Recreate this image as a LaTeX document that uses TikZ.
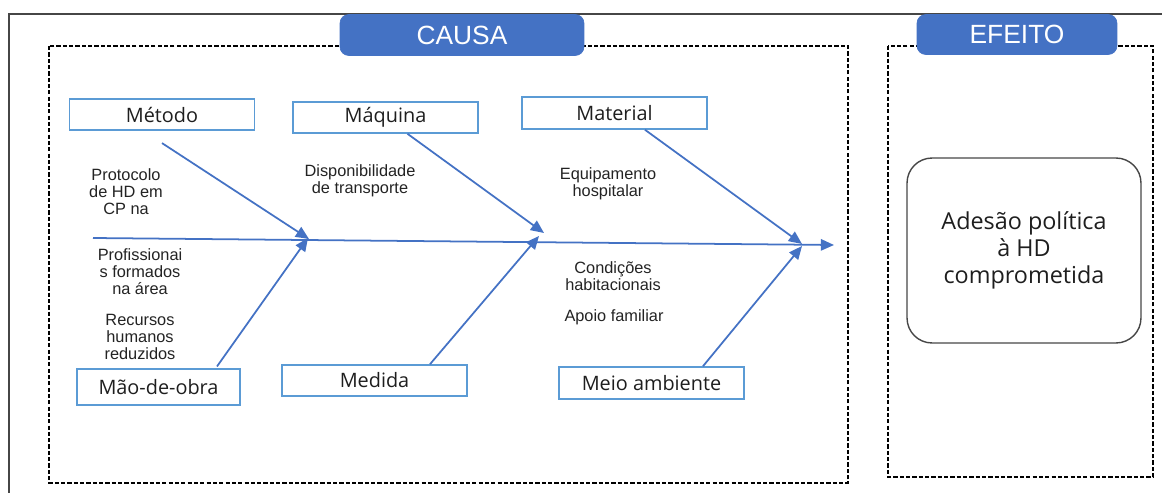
\documentclass[tikz,border=0pt]{standalone}
\usepackage{fontspec}
\usepackage{tikz}
\usetikzlibrary{arrows.meta}
\newfontfamily\labelfont{Open Sans}
\newfontfamily\notefont{Liberation Sans}

\tikzset{
  catbox/.style={draw=catline,line width=0.9pt,minimum width=3.7cm,minimum height=0.62cm,
    inner sep=0pt,text=labeltext,font=\labelfont\fontsize{11.3}{13}\selectfont},
  tabbox/.style={fill=tabblue,draw=tabblue,rounded corners=5pt,inner sep=0pt,
    text=white,font=\notefont\fontsize{15}{17}\selectfont},
  note/.style={align=center,inner sep=0pt,text=notetext,font=\notefont\fontsize{9.3}{9.7}\selectfont},
  branch/.style={draw=tabblue,line width=1pt,-{Triangle[length=7.5pt,width=6.5pt]}},
  zone/.style={draw=black,line width=0.6pt,dash pattern=on 2.4pt off 1.2pt}
}

\begin{document}
\begin{tikzpicture}[x=0.02cm,y=-0.02cm]
% Define colours
\definecolor{tabblue}{RGB}{68,114,196}
\definecolor{catline}{RGB}{91,155,213}
\definecolor{labeltext}{RGB}{30,30,30}
\definecolor{notetext}{RGB}{35,35,35}
\definecolor{frame}{RGB}{70,70,70}

\useasboundingbox (0,0) rectangle (1162,493);

% Draw outer frame and zones
\draw[frame,line width=0.9pt] (1162,14) -| (9,493);
\draw[zone] (49,46) rectangle (848,483);
\draw[zone] (888,46) rectangle (1153,477);

% Add zone tabs
\node[tabbox,minimum width=4.88cm,minimum height=0.82cm] (causa) at (462,35) {CAUSA};
\node[tabbox,minimum width=4.0cm,minimum height=0.8cm] (efeito) at (1017,34.5) {EFEITO};

% Draw effect
\node[draw=frame,line width=0.8pt,rounded corners=0.5cm,minimum width=4.68cm,minimum height=3.7cm,
  align=center,text=labeltext,font=\labelfont\fontsize{13.3}{15.5}\selectfont] (adesao) at (1024,250.5)
  {Adesão política\\à HD\\comprometida};

% Draw category boxes
\node[catbox] (metodo) at (162,114.5) {Método};
\node[catbox] (maquina) at (385.5,117.5) {\raisebox{-2.5pt}{Máquina}};
\node[catbox,minimum height=0.64cm] (material) at (614.5,113) {Material};
\node[catbox,minimum width=3.26cm,minimum height=0.72cm] (maodeobra) at (158.5,387) {Mão-de-obra};
\node[catbox] (medida) at (374.5,380.5) {Medida};
\node[catbox,minimum height=0.64cm] (meioamb) at (651.5,383) {\raisebox{-1.5pt}{Meio ambiente}};

% Draw spine
\coordinate (spinestart) at (93,238);
\coordinate (spineend) at (834,245);
\draw[branch] (spinestart) -- (spineend);

% Draw branches
\coordinate (m1) at (309,239);
\coordinate (m2) at (544,233);
\coordinate (m3) at (802,244);
\coordinate (m4) at (308,238);
\coordinate (m5) at (539,236);
\coordinate (m6) at (802,246);
\draw[branch] ([yshift=-7pt]metodo.south) -- (m1);
\draw[branch] ([xshift=0.44cm]maquina.south) -- (m2);
\draw[branch] ([xshift=0.61cm]material.south) -- (m3);
\draw[branch] ([xshift=1.17cm,yshift=1pt]maodeobra.north) -- (m4);
\draw[branch] ([xshift=1.11cm]medida.north) -- (m5);
\draw[branch] ([xshift=1.03cm]meioamb.north) -- (m6);

% Add causes
\node[note] (protocolo) at (126,192) {Protocolo\\de HD em\\CP na};
\node[note] (profissionais) at (140,272) {Profissionai\\s formados\\na área};
\node[note] (recursos) at (140,337) {Recursos\\humanos\\reduzidos};
\node[note] (transporte) at (360,181) {Disponibilidade\\de transporte};
\node[note] (equipamento) at (608,184) {Equipamento\\hospitalar};
\node[note] (condicoes) at (613,276) {Condições\\habitacionais};
\node[note] (apoio) at (614,317) {Apoio familiar};
\end{tikzpicture}
\end{document}
